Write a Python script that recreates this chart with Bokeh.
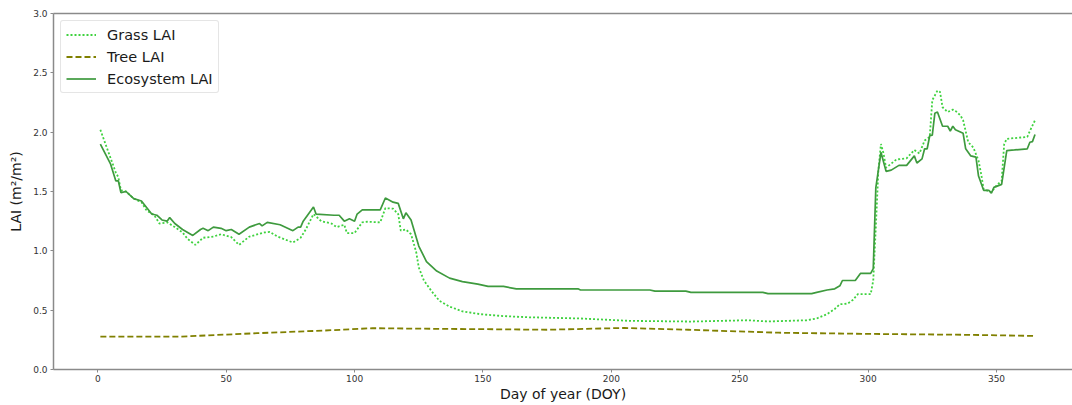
from bokeh.plotting import figure
from bokeh.models import (Range1d, FixedTicker, PrintfTickFormatter, LinearAxis,
                          Legend, LegendItem)
from bokeh.embed import file_html
from bokeh.resources import INLINE

# Daily leaf area index (m2/m2) through one year
grass_day = [1, 5, 7, 8, 9, 11, 14, 17, 19, 22, 24, 27, 30, 33, 35, 38, 41, 45, 48, 52,
             55, 59, 65, 67, 70, 76, 79, 81, 84, 87, 91, 93, 96, 97, 100, 103, 105, 110,
             112, 115, 117, 118, 120, 122, 124, 125, 127, 130, 133, 137, 142, 149, 158,
             168, 188, 207, 231, 253, 261, 276, 280, 284, 287, 289, 292, 294, 296, 301,
             302, 303, 304, 305, 306, 307, 311, 315, 318, 320, 322, 324, 325, 327, 328,
             329, 331, 333, 334, 336, 337, 339, 341, 343, 344, 345, 348, 350, 352, 353,
             354, 362, 363, 365]
grass_lai = [2.02, 1.78, 1.66, 1.62, 1.51, 1.50, 1.44, 1.41, 1.34, 1.30, 1.23, 1.24, 1.20,
             1.155, 1.10, 1.05, 1.11, 1.12, 1.14, 1.115, 1.05, 1.12, 1.155, 1.16, 1.12,
             1.07, 1.11, 1.18, 1.31, 1.25, 1.23, 1.20, 1.22, 1.15, 1.15, 1.24, 1.245, 1.24,
             1.36, 1.355, 1.31, 1.17, 1.18, 1.14, 0.99, 0.86, 0.75, 0.66, 0.58, 0.53, 0.49,
             0.466, 0.45, 0.44, 0.43, 0.41, 0.404, 0.415, 0.405, 0.415, 0.43, 0.466, 0.51,
             0.55, 0.555, 0.585, 0.635, 0.635, 0.75, 1.20, 1.68, 1.90, 1.82, 1.70, 1.77,
             1.78, 1.85, 1.82, 1.93, 1.96, 2.27, 2.35, 2.34, 2.21, 2.17, 2.19, 2.18, 2.14,
             2.10, 1.915, 1.87, 1.76, 1.65, 1.52, 1.495, 1.55, 1.59, 1.90, 1.944, 1.96,
             2.01, 2.10]

tree_day = [1, 32, 62, 88, 107, 136, 150, 175, 205, 230, 265, 300, 340, 365]
tree_lai = [0.277, 0.277, 0.306, 0.328, 0.348, 0.342, 0.34, 0.335, 0.35, 0.335, 0.31,
            0.30, 0.292, 0.283]

eco_day = [1, 5, 7, 8, 9, 11, 14, 17, 21, 23, 25, 27, 28, 30, 33, 37, 40, 41, 43, 45,
           48, 50, 52, 55, 59, 63, 64, 66, 71, 76, 78, 79, 80, 84, 85, 92, 94, 96, 98,
           100, 101, 103, 110, 112, 115, 117, 119, 120, 122, 125, 128, 132, 137, 142,
           148, 152, 158, 163, 187, 188, 215, 217, 229, 231, 259, 261, 278, 280, 284,
           287, 289, 290, 295, 297, 301, 302, 303, 305, 307, 309, 312, 315, 318, 319,
           321, 322, 323, 324, 325, 326, 327, 329, 331, 332, 333, 334, 337, 338, 340,
           342, 343, 345, 347, 348, 349, 352, 354, 357, 362, 363, 364, 365]
eco_lai = [1.90, 1.73, 1.59, 1.59, 1.49, 1.50, 1.44, 1.42, 1.31, 1.30, 1.26, 1.25, 1.28,
           1.23, 1.18, 1.13, 1.18, 1.19, 1.17, 1.20, 1.19, 1.17, 1.18, 1.14, 1.20, 1.23,
           1.21, 1.24, 1.22, 1.17, 1.20, 1.20, 1.25, 1.37, 1.31, 1.30, 1.30, 1.25, 1.27,
           1.25, 1.31, 1.345, 1.345, 1.445, 1.41, 1.40, 1.27, 1.32, 1.26, 1.04, 0.91,
           0.83, 0.77, 0.74, 0.72, 0.70, 0.70, 0.68, 0.68, 0.67, 0.67, 0.66, 0.66, 0.65,
           0.65, 0.64, 0.64, 0.65, 0.67, 0.68, 0.705, 0.75, 0.75, 0.81, 0.81, 0.85, 1.53,
           1.83, 1.67, 1.68, 1.72, 1.72, 1.80, 1.74, 1.775, 1.86, 1.86, 1.97, 1.975,
           2.16, 2.17, 2.05, 2.05, 2.01, 2.05, 2.02, 1.99, 1.86, 1.80, 1.79, 1.63, 1.51,
           1.51, 1.485, 1.535, 1.56, 1.845, 1.85, 1.86, 1.915, 1.92, 1.98]

x_ticks = [0, 50, 100, 150, 200, 250, 300, 350]
y_ticks = [0.0, 0.5, 1.0, 1.5, 2.0, 2.5, 3.0]

FONT = "DejaVu Sans"
SPINE = "#8a8a8a"

p = figure(width=1072, height=405, output_backend="svg", toolbar_location=None,
           x_range=Range1d(-17.25, 379.6), y_range=Range1d(0, 3.0),
           min_border_left=53, min_border_right=0, min_border_top=13,
           min_border_bottom=36)
p.outline_line_color = None
p.background_fill_color = "white"
p.border_fill_color = "white"
p.xgrid.visible = False
p.ygrid.visible = False

r_grass = p.line(grass_day, grass_lai, line_color="#3fd23f", line_width=1.8,
                 line_dash="2 2")
r_tree = p.line(tree_day, tree_lai, line_color="#808000", line_width=1.8,
                line_dash="6 3")
r_eco = p.line(eco_day, eco_lai, line_color="#3e9a3e", line_width=1.7)

for ax in (p.xaxis[0], p.yaxis[0]):
    ax.axis_line_color = SPINE
    ax.axis_line_width = 1.5
    ax.major_tick_line_color = SPINE
    ax.major_tick_out = 3
    ax.major_tick_in = 0
    ax.minor_tick_line_color = None
    ax.major_label_text_font = FONT
    ax.major_label_text_font_size = "9px"
    ax.major_label_text_color = "#333333"
    ax.axis_label_text_font = FONT
    ax.axis_label_text_font_size = "14px"
    ax.axis_label_text_font_style = "normal"
    ax.axis_label_text_color = "#1a1a1a"

p.xaxis.ticker = FixedTicker(ticks=x_ticks)
p.yaxis.ticker = FixedTicker(ticks=y_ticks)
p.yaxis.formatter = PrintfTickFormatter(format="%.1f")
p.xaxis.axis_label = "Day of year (DOY)"
p.yaxis.axis_label = "LAI (m²/m²)"
p.xaxis.major_label_standoff = 2
p.xaxis.axis_label_standoff = 1
p.yaxis.major_label_standoff = 3
p.yaxis.axis_label_standoff = 6

# top spine
top = LinearAxis(ticker=FixedTicker(ticks=[]), axis_line_color=SPINE,
                 axis_line_width=1.5, major_tick_line_color=None,
                 minor_tick_line_color=None, major_label_text_font_size="0px")
p.add_layout(top, "above")

legend = Legend(items=[LegendItem(label="Grass LAI", renderers=[r_grass]),
                       LegendItem(label="Tree LAI", renderers=[r_tree]),
                       LegendItem(label="Ecosystem LAI", renderers=[r_eco])],
                location="top_left", margin=7, padding=5, spacing=5,
                glyph_width=30, glyph_height=17, label_height=17,
                label_standoff=11, label_text_font=FONT,
                label_text_font_size="14.5px", label_text_color="#1a1a1a",
                border_line_color="#cccccc", border_line_width=1,
                border_radius=3, background_fill_color="white",
                background_fill_alpha=0.9)
p.add_layout(legend, "center")

open("out.html", "w").write(file_html(p, INLINE))
